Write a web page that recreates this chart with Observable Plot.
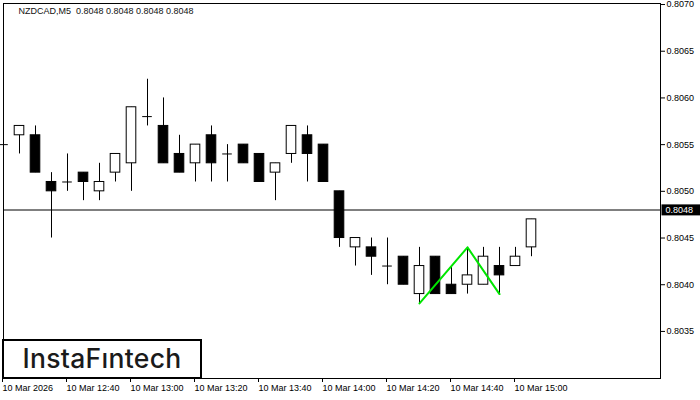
<!DOCTYPE html>
<html>
<head>
<meta charset="utf-8">
<script src="https://cdn.jsdelivr.net/npm/d3@7"></script>
<script src="https://cdn.jsdelivr.net/npm/@observablehq/plot@0.6"></script>
<style>
  html, body { margin: 0; padding: 0; background: #fff; }
  #wrap { position: relative; width: 700px; height: 400px; overflow: hidden; }
  #logo {
    position: absolute; left: 2px; top: 339px; width: 200px; height: 40px; box-sizing: border-box;
    border: 2.7px solid #000; background: #fff;
    font-family: Inter, "Liberation Sans", sans-serif; font-size: 26.5px; font-weight: 500;
    color: #1a1a1a; line-height: 35px; text-align: center; letter-spacing: 0.3px;
  }
</style>
</head>
<body>
<div id="wrap"><div id="logo">InstaFıntech</div></div>
<script>
// ---- data ----
const symbolTitle = "NZDCAD,M5\u00a0 0.8048 0.8048 0.8048 0.8048";
const times = ["12:20","12:25","12:30","12:35","12:40","12:45","12:50","12:55",
  "13:00","13:05","13:10","13:15","13:20","13:25","13:30","13:35",
  "13:40","13:45","13:50","13:55","14:00","14:05","14:10","14:15",
  "14:20","14:25","14:30","14:35","14:40","14:45","14:50","14:55",
  "15:00","15:05"];
const opens  = [0.8055,0.8056,0.8056,0.8051,0.8051,0.8052,0.8050,0.8052,
  0.8053,0.8058,0.8057,0.8054,0.8053,0.8056,0.8054,0.8055,
  0.8054,0.8052,0.8054,0.8056,0.8055,0.8050,0.8044,0.8044,
  0.8042,0.8043,0.8039,0.8043,0.8040,0.8040,0.8040,0.8042,
  0.8042,0.8044];
const highs  = [0.8056,0.8057,0.8057,0.8052,0.8054,0.8052,0.8053,0.8054,
  0.8059,0.8062,0.8060,0.8056,0.8055,0.8057,0.8055,0.8055,
  0.8054,0.8053,0.8057,0.8057,0.8055,0.8050,0.8045,0.8045,
  0.8045,0.8043,0.8044,0.8043,0.8042,0.8044,0.8044,0.8044,
  0.8044,0.8047];
const lows   = [0.8054,0.8054,0.8052,0.8045,0.8050,0.8049,0.8049,0.8051,
  0.8050,0.8057,0.8053,0.8052,0.8051,0.8051,0.8051,0.8053,
  0.8051,0.8049,0.8053,0.8051,0.8051,0.8044,0.8042,0.8041,
  0.8040,0.8040,0.8038,0.8039,0.8039,0.8039,0.8040,0.8039,
  0.8042,0.8043];
const closes = [0.8055,0.8057,0.8052,0.8050,0.8051,0.8051,0.8051,0.8054,
  0.8059,0.8058,0.8053,0.8052,0.8055,0.8053,0.8054,0.8053,
  0.8051,0.8053,0.8057,0.8054,0.8051,0.8045,0.8045,0.8043,
  0.8042,0.8040,0.8042,0.8039,0.8039,0.8041,0.8043,0.8041,
  0.8043,0.8047];
const currentPrice = 0.8048;
const patternTimes  = ["14:30","14:45","14:55"];
const patternPrices = [0.8038, 0.8044, 0.8039];
const xTickTimes  = ["12:20","12:40","13:00","13:20","13:40","14:00","14:20","14:40","15:00"];
const xTickLabels = ["10 Mar 2026","10 Mar 12:40","10 Mar 13:00","10 Mar 13:20","10 Mar 13:40",
  "10 Mar 14:00","10 Mar 14:20","10 Mar 14:40","10 Mar 15:00"];
const yTicks = [0.8035,0.8040,0.8045,0.8050,0.8055,0.8060,0.8065,0.8070];

// ---- helpers ----
const toDate = s => { const [h, m] = s.split(":").map(Number); return new Date(Date.UTC(2026, 2, 10, h, m)); };
const MIN = 60000;
const candles = times.map((t, i) => ({
  t: toDate(t), o: opens[i], h: highs[i], l: lows[i], c: closes[i]
}));
const bodies = candles.filter(d => d.o !== d.c);
const dojis = candles.filter(d => d.o === d.c);
const pattern = patternTimes.map((t, i) => ({t: toDate(t), p: patternPrices[i]}));
const labelMap = new Map(xTickTimes.map((t, i) => [+toDate(t), xTickLabels[i]]));
const priceText = currentPrice.toFixed(4);

const chart = Plot.plot({
  width: 700,
  height: 400,
  marginLeft: 3,
  marginRight: 40,
  marginTop: 3,
  marginBottom: 22,
  style: {fontFamily: "'Liberation Sans', Arial, sans-serif", fontSize: "9px", background: "white", color: "black", overflow: "visible"},
  x: {type: "utc", label: null, domain: [toDate("12:20"), new Date(+toDate("15:45") + 0.3125 * MIN)]},
  y: {label: null, domain: [0.802996, 0.807011]},
  marks: [
    Plot.frame({stroke: "black"}),
    Plot.axisX({ticks: xTickTimes.map(toDate), tickFormat: d => labelMap.get(+d), tickSize: 4, tickPadding: 2,
      textAnchor: "start", dx: -1, fontSize: 9, label: null}),
    Plot.axisY({anchor: "right", ticks: yTicks, tickFormat: d => d.toFixed(4), tickSize: 4, tickPadding: 2,
      fontSize: 9, label: null}),
    Plot.ruleY([currentPrice], {stroke: "black", strokeWidth: 1}),
    Plot.ruleX(candles, {x: "t", y1: "l", y2: "h", stroke: "black", strokeWidth: 1}),
    Plot.ruleY(dojis, {y: "o", x1: d => new Date(+d.t - 1.5 * MIN), x2: d => new Date(+d.t + 1.5 * MIN), stroke: "black"}),
    Plot.rect(bodies, {
      x1: d => new Date(+d.t - 1.5 * MIN), x2: d => new Date(+d.t + 1.5 * MIN),
      y1: "o", y2: "c",
      fill: d => d.c > d.o ? "white" : "black", stroke: "black", strokeWidth: 1
    }),
    Plot.line(pattern, {x: "t", y: "p", stroke: "#00e600", strokeWidth: 2}),
    Plot.text([symbolTitle], {frameAnchor: "top-left", dx: 15, dy: 4, textAnchor: "start", lineAnchor: "top",
      fontSize: 9, fill: "#111"}),
    Plot.text([currentPrice], {y: d => d, text: () => priceText, frameAnchor: "right", dx: 5,
      textAnchor: "start", fill: "white", fontSize: 9})
  ]
});
document.getElementById("wrap").insertBefore(chart, document.getElementById("logo"));

// black background behind the current price label (placed in the SVG root, below the label's group)
const pl = Array.from(chart.querySelectorAll("text")).find(t => t.textContent === priceText);
if (pl) {
  const sb = chart.getBoundingClientRect();
  const tb = pl.getBoundingClientRect();
  const r = document.createElementNS("http://www.w3.org/2000/svg", "rect");
  const cy = tb.top - sb.top + tb.height / 2;
  r.setAttribute("x", tb.left - sb.left - 4);
  r.setAttribute("y", cy - 5.5);
  r.setAttribute("width", 60);
  r.setAttribute("height", 11);
  r.setAttribute("fill", "black");
  let g = pl;
  while (g.parentNode && g.parentNode !== chart) g = g.parentNode;
  chart.insertBefore(r, g);
}
</script>
</body>
</html>
